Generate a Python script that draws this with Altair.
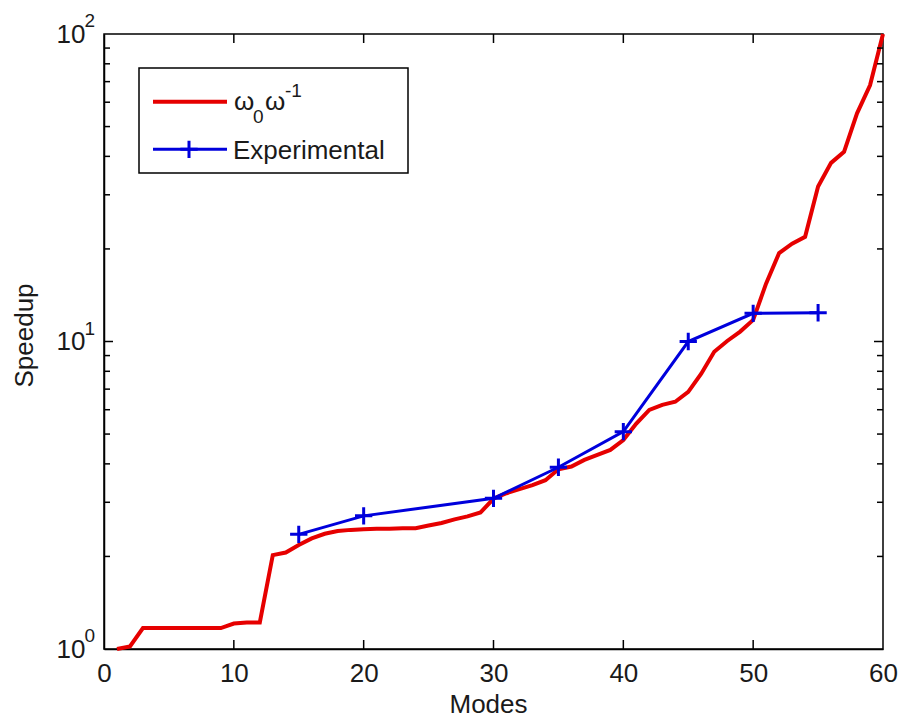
import altair as alt
import pandas as pd

# ---------------- data ----------------
modes = list(range(1, 61))
speedup_theory = [
    1.00, 1.02, 1.17, 1.17, 1.17, 1.17, 1.17, 1.17, 1.17, 1.21,
    1.22, 1.22, 2.02, 2.06, 2.18, 2.29, 2.37, 2.42, 2.44, 2.45,
    2.46, 2.46, 2.47, 2.47, 2.52, 2.57, 2.64, 2.70, 2.78, 3.08,
    3.21, 3.31, 3.41, 3.54, 3.84, 3.92, 4.12, 4.28, 4.44, 4.78,
    5.41, 5.99, 6.22, 6.37, 6.86, 7.86, 9.26, 10.04, 10.77, 11.75,
    15.45, 19.4, 20.8, 21.9, 31.9, 38.1, 41.4, 55.2, 68.1, 100.0,
]
exp_modes = [15, 20, 30, 35, 40, 45, 50, 55]
exp_speedup = [2.36, 2.71, 3.09, 3.90, 5.09, 10.0, 12.35, 12.4]

x_tick_labels = [0, 10, 20, 30, 40, 50, 60]
x_inner_ticks = [10, 20, 30, 40, 50]
y_decades = [1, 10, 100]
y_exponents = ["0", "1", "2"]
y_major_inner = [10]
y_minor = [2, 3, 4, 5, 6, 7, 8, 9, 20, 30, 40, 50, 60, 70, 80, 90]

legend_theory = ["ω", "0", "ω", "-1"]
legend_exp = "Experimental"

# ---------------- style ----------------
W, H = 779, 615
FONT = "Liberation Sans"
TXT = "#1a1a1a"
RED = "#e60000"
BLUE = "#0000dc"
PLUS = "M-1,0L1,0M0,-1L0,1"

xs = alt.Scale(domain=[0, 60], nice=False, zero=False)
ys = alt.Scale(type="log", domain=[1, 100], nice=False)

df_t = pd.DataFrame({"mode": modes, "speedup": speedup_theory})
df_e = pd.DataFrame({"mode": exp_modes, "speedup": exp_speedup})
df_dec = pd.DataFrame({"mode": [0, 0, 0], "speedup": y_decades, "exp": y_exponents})
df_xt = pd.DataFrame({"mode": x_inner_ticks})
df_ymaj = pd.DataFrame({"speedup": y_major_inner})
df_ymin = pd.DataFrame({"speedup": y_minor})
one = pd.DataFrame({"k": [0]})

x_axis = alt.Axis(
    values=x_tick_labels, ticks=False, tickSize=0, grid=False,
    labelFont=FONT, labelFontSize=26, labelColor=TXT, labelPadding=11,
    labelFlush=False, labelOverlap=False,
    title="Modes", titleFont=FONT, titleFontSize=26, titleFontWeight="normal",
    titleColor=TXT, titleX=384, titleY=63, titleBaseline="alphabetic",
    titleAlign="center", domainColor="black", domainWidth=1.5,
)
y_axis = alt.Axis(
    values=y_decades, labelExpr="'10'", ticks=False, tickSize=0, grid=False,
    labelFont=FONT, labelFontSize=26, labelColor=TXT, labelPadding=19,
    labelAlign="right", labelBaseline="middle", labelFlush=False, labelOverlap=False,
    title="Speedup", titleFont=FONT, titleFontSize=26, titleFontWeight="normal",
    titleColor=TXT, titleAngle=-90, titleX=-72, titleY=301,
    titleBaseline="alphabetic", titleAlign="center",
    domainColor="black", domainWidth=1.5,
)

X = alt.X("mode:Q", scale=xs, axis=x_axis)
Y = alt.Y("speedup:Q", scale=ys, axis=y_axis)

red = alt.Chart(df_t).mark_line(color=RED, strokeWidth=4).encode(x=X, y=Y)
blue_line = alt.Chart(df_e).mark_line(color=BLUE, strokeWidth=3).encode(x=X, y=Y)
blue_pts = alt.Chart(df_e).mark_point(
    shape=PLUS, filled=False, color=BLUE, strokeWidth=3, size=300, opacity=1
).encode(x=X, y=Y)

# inward ticks
def yticks(df, length):
    left = alt.Chart(df).mark_rule(color="black", strokeWidth=1.5).encode(
        y=Y, x=alt.value(0), x2=alt.value(length))
    right = alt.Chart(df).mark_rule(color="black", strokeWidth=1.5).encode(
        y=Y, x=alt.value(W - length), x2=alt.value(W))
    return [left, right]

xt_bottom = alt.Chart(df_xt).mark_rule(color="black", strokeWidth=1.5).encode(
    x=X, y=alt.value(H - 9), y2=alt.value(H))
xt_top = alt.Chart(df_xt).mark_rule(color="black", strokeWidth=1.5).encode(
    x=X, y=alt.value(0), y2=alt.value(9))

exps = alt.Chart(df_dec).mark_text(
    align="right", baseline="alphabetic", font=FONT, fontSize=19, color=TXT, dy=-7
).encode(y=Y, x=alt.value(-9), text="exp:N")

# legend
leg_box = alt.Chart(one).mark_rect(fill="white", stroke="black", strokeWidth=1.5).encode(
    x=alt.value(35), x2=alt.value(304), y=alt.value(34), y2=alt.value(139))
leg_red = alt.Chart(one).mark_rule(color=RED, strokeWidth=4).encode(
    x=alt.value(49), x2=alt.value(123), y=alt.value(67.7))
leg_blue = alt.Chart(one).mark_rule(color=BLUE, strokeWidth=3).encode(
    x=alt.value(49), x2=alt.value(123), y=alt.value(115.3))
leg_plus = alt.Chart(one).mark_point(
    shape=PLUS, filled=False, color=BLUE, strokeWidth=3, size=300, opacity=1
).encode(x=alt.value(85), y=alt.value(115.3))

def ltext(label, x, y, size):
    return alt.Chart(one).mark_text(
        align="left", baseline="alphabetic", font=FONT, fontSize=size, color=TXT
    ).encode(x=alt.value(x), y=alt.value(y), text=alt.value(label))

leg_texts = [
    ltext(legend_theory[0], 130, 76, 26),
    ltext(legend_theory[1], 149, 89, 19),
    ltext(legend_theory[2], 161, 76, 26),
    ltext(legend_theory[3], 181, 63, 19),
    ltext(legend_exp, 129, 125, 26),
]

chart = alt.layer(
    red, blue_line, blue_pts,
    *yticks(df_ymin, 6), *yticks(df_ymaj, 9), xt_bottom, xt_top,
    exps, leg_box, leg_red, leg_blue, leg_plus, *leg_texts,
).properties(
    width=W, height=H,
    autosize=alt.AutoSizeParams(type="none"),
    padding={"left": 104, "top": 34, "right": 18, "bottom": 68},
    background="white",
).configure_view(stroke="black", strokeWidth=1.5)

chart.save("out.html", embed_options={"renderer": "svg", "actions": False})
